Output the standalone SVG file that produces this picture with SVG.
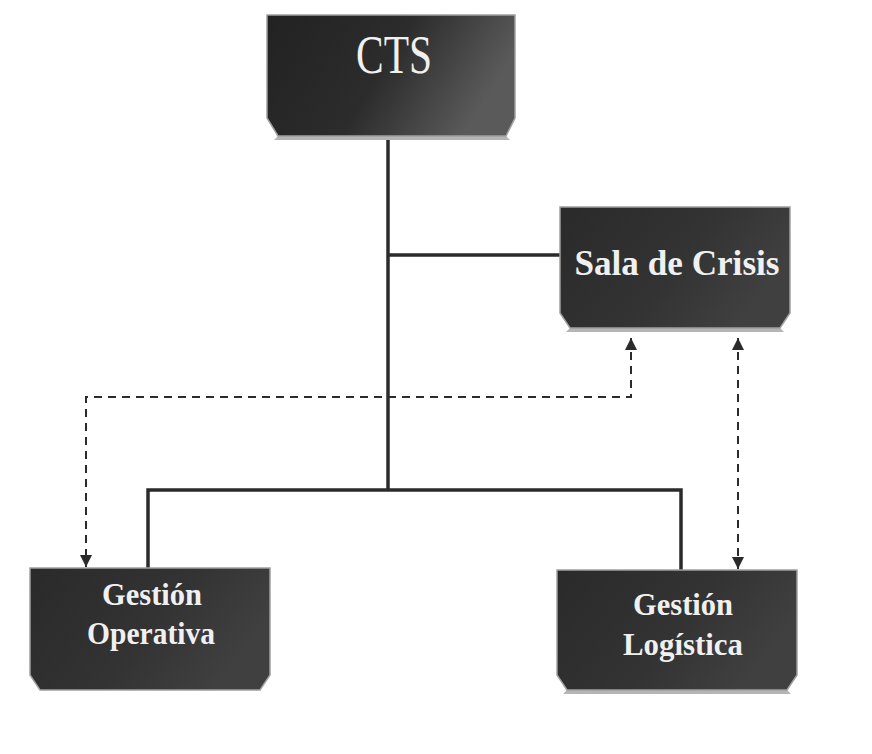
<svg xmlns="http://www.w3.org/2000/svg" width="872" height="754" viewBox="0 0 872 754">
<style>
.box{fill:url(#g);stroke:#a0a0a0;stroke-width:1.5}
.shadow{fill:#b5b5b5}
.lbl{font-family:"Liberation Serif","DejaVu Serif",serif;fill:#f0f0f0;text-anchor:middle}
.b{font-weight:bold}
.solid{fill:none;stroke:#2b2b2b;stroke-width:3.5}
.dash{fill:none;stroke:#2b2b2b;stroke-width:2;stroke-dasharray:8 6}
</style>
<defs>
<linearGradient id="g" x1="0" y1="0" x2="1" y2="0.4">
<stop offset="0" stop-color="#2a2a2a"/>
<stop offset="0.6" stop-color="#333333"/>
<stop offset="1" stop-color="#404040"/>
</linearGradient>
<linearGradient id="gc" x1="0" y1="0" x2="1" y2="0.3">
<stop offset="0" stop-color="#222222"/>
<stop offset="0.55" stop-color="#2c2c2c"/>
<stop offset="1" stop-color="#5a5a5a"/>
</linearGradient>
<marker id="ah" viewBox="0 0 12 14" refX="12" refY="7" markerWidth="12" markerHeight="14" markerUnits="userSpaceOnUse" orient="auto-start-reverse">
<path d="M0,1 L12,7 L0,13 Z" fill="#2b2b2b"/>
</marker>
</defs>
<rect width="872" height="754" fill="#ffffff"/>
<g id="connectors">
<path class="solid" d="M388,136 V490"/>
<path class="solid" d="M388,255 H560"/>
<path class="solid" d="M148,568 V490 H681 V570"/>
<path class="dash" d="M631,338 V397 H86 V567" marker-start="url(#ah)" marker-end="url(#ah)"/>
<path class="dash" d="M738,338 V569" marker-start="url(#ah)" marker-end="url(#ah)"/>
</g>
<g id="cts">
<path class="shadow" d="M278,136 H506 L510,140 H274 Z"/>
<path class="box" d="M267,15 H515 V118 L506,136 H278 L267,118 Z" style="fill:url(#gc)"/>
<text class="lbl" x="394" y="73" font-size="54" textLength="76" lengthAdjust="spacingAndGlyphs">CTS</text>
</g>
<g id="sala">
<path class="shadow" d="M570,328 H780 L784,332 H566 Z"/>
<path class="box" d="M560,207 H790 V313 L780,328 H570 L560,313 Z"/>
<text class="lbl b" x="677" y="275" font-size="36" textLength="205" lengthAdjust="spacingAndGlyphs">Sala de Crisis</text>
</g>
<g id="operativa">
<path class="box" d="M30,568 H270 V675 L260,690 H40 L30,675 Z"/>
<text class="lbl b" x="152" y="605" font-size="31" textLength="100" lengthAdjust="spacingAndGlyphs">Gestión</text>
<text class="lbl b" x="151" y="644" font-size="31" textLength="128" lengthAdjust="spacingAndGlyphs">Operativa</text>
</g>
<g id="logistica">
<path class="shadow" d="M567,690 H787 L791,694 H563 Z"/>
<path class="box" d="M557,570 H797 V675 L787,690 H567 L557,675 Z"/>
<text class="lbl b" x="683" y="615" font-size="31" textLength="100" lengthAdjust="spacingAndGlyphs">Gestión</text>
<text class="lbl b" x="683" y="655" font-size="31" textLength="120" lengthAdjust="spacingAndGlyphs">Logística</text>
</g>
</svg>
